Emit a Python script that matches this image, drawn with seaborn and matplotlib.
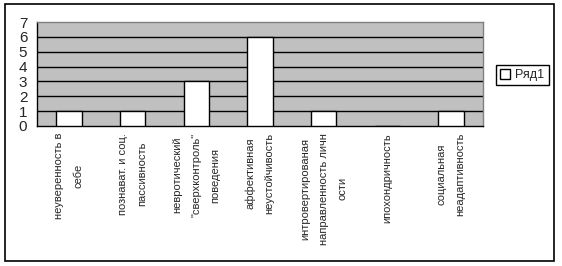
import matplotlib
matplotlib.use("Agg")
import matplotlib.pyplot as plt
from matplotlib.patches import Rectangle
from matplotlib.ticker import FixedLocator
import seaborn as sns
import pandas as pd

categories = [
    "неуверенность в\nсебе",
    "познават. и соц.\nпассивность",
    "невротический\n\"сверхконтроль\"\nповедения",
    "аффективная\nнеустойчивость",
    "интровертированая\nнаправленность личн\nости",
    "ипохондричность",
    "социальная\nнеадаптивность",
]
values = [1, 1, 3, 6, 1, 0, 1]
series_name = "Ряд1"
y_ticks = [0, 1, 2, 3, 4, 5, 6, 7]

sns.set_style("white")
plt.rcParams["font.family"] = ["Liberation Sans", "DejaVu Sans"]
plt.rcParams["font.size"] = 8

W, H = 562, 266
fig = plt.figure(figsize=(W / 100, H / 100), dpi=100)
fig.patch.set_facecolor("white")

# plot area in pixel coordinates
left, right, top, bottom = 37, 483, 22, 126
ax = fig.add_axes([left / W, 1 - bottom / H, (right - left) / W, (bottom - top) / H])
ax.set_facecolor("#C0C0C0")

df = pd.DataFrame({"cat": categories, "val": values})
sns.barplot(data=df, x="cat", y="val", color="white", edgecolor="black",
            linewidth=1, width=0.4, saturation=1, label=series_name, ax=ax,
            zorder=3)

ax.set_xlim(-0.5, len(categories) - 0.5)
ax.set_ylim(0, 7)
ax.set_yticks(y_ticks)
ax.set_xlabel("")
ax.set_ylabel("")

# horizontal gridlines
for yv in y_ticks[1:-1]:
    ax.axhline(yv, color="black", linewidth=1, zorder=1)

for s in ["top", "right"]:
    ax.spines[s].set_color("#808080")
    ax.spines[s].set_linewidth(1)
for s in ["left", "bottom"]:
    ax.spines[s].set_color("black")
    ax.spines[s].set_linewidth(1)

ax.tick_params(axis="y", direction="out", length=5, width=1, color="black",
               labelsize=11, pad=2)

# x ticks: marks at category boundaries, labels at centers
ax.xaxis.set_minor_locator(FixedLocator([i - 0.5 for i in range(len(categories) + 1)]))
ax.tick_params(axis="x", which="minor", direction="out", length=4, width=1, color="black")
ax.tick_params(axis="x", which="major", length=0, pad=5)
ax.set_xticks(range(len(categories)))
ax.set_xticklabels(categories, rotation=90, ha="center", va="top",
                   multialignment="center", linespacing=2.1, fontsize=8)

leg = ax.legend(loc="center", bbox_to_anchor=(522.5 / W, 1 - 75 / H),
                bbox_transform=fig.transFigure, frameon=True, fancybox=False,
                edgecolor="black", framealpha=1, handlelength=0.8,
                handleheight=0.8, handletextpad=0.4, borderpad=0.35,
                fontsize=9)
leg.get_frame().set_linewidth(1)

# outer chart border
fig.add_artist(Rectangle((5 / W, 1 - 261 / H), 549 / W, 257 / H,
                         transform=fig.transFigure, fill=False,
                         edgecolor="black", linewidth=1.2))

fig.savefig("out.png", dpi=100, facecolor="white")
